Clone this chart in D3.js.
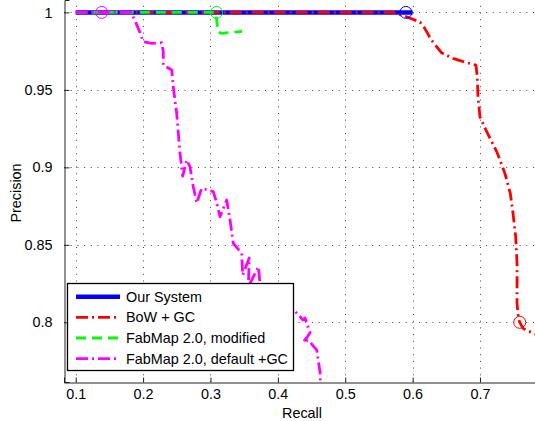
<!DOCTYPE html>
<html><head><meta charset="utf-8">
<script src="https://cdn.jsdelivr.net/npm/d3@7/dist/d3.min.js"></script>
<style>body{margin:0;background:#fff}svg{display:block}text{font-family:"Liberation Sans",Arial,Helvetica,sans-serif}</style>
</head><body>
<script>
const xTicks=[0.1,0.2,0.3,0.4,0.5,0.6,0.7];
const yTicks=[0.8,0.85,0.9,0.95,1];
const ourSystem=[[0.1,1],[0.6,1]];
const ourMarker=[0.59,1];
const bowGC=[[0.1,1],[0.571,1],[0.591,0.9972],[0.611,0.9937],[0.618,0.9897],[0.628,0.9821],[0.643,0.9739],[0.660,0.9703],[0.680,0.9676],[0.694,0.966],[0.696,0.9583],[0.697,0.9455],[0.700,0.9325],[0.710,0.923],[0.725,0.910],[0.737,0.8961],[0.745,0.8832],[0.749,0.8703],[0.753,0.8552],[0.755,0.838],[0.755,0.8123],[0.757,0.8028],[0.759,0.800],[0.764,0.7961],[0.771,0.7944],[0.779,0.7932],[0.789,0.791]];
const bowMarker=[0.759,0.8];
const fabModified=[[0.1,1],[0.307,1],[0.309,0.996],[0.311,0.9875],[0.316,0.9865],[0.33,0.987],[0.347,0.9878]];
const fabModMarker=[0.309,1];
const fabDefault=[[0.1,1],[0.182,1],[0.1865,0.9961],[0.1954,0.9871],[0.2003,0.981],[0.2128,0.98],[0.2276,0.9804],[0.230,0.9746],[0.230,0.966],[0.2425,0.9628],[0.2448,0.952],[0.2499,0.9348],[0.2523,0.9219],[0.2548,0.909],[0.2588,0.8944],[0.2647,0.9047],[0.2696,0.9004],[0.2745,0.8875],[0.2796,0.877],[0.287,0.8865],[0.3042,0.8843],[0.3093,0.877],[0.3142,0.8681],[0.3241,0.8789],[0.329,0.866],[0.3339,0.851],[0.3464,0.8445],[0.3478,0.8305],[0.3576,0.8415],[0.3562,0.8228],[0.371,0.8359],[0.3735,0.8254],[0.4106,0.8144],[0.4373,0.8015],[0.4403,0.8028],[0.4478,0.7931],[0.4378,0.7873],[0.4452,0.7886],[0.4577,0.7821],[0.4626,0.768],[0.4633,0.76]];
const fabDefMarker=[0.1386,1];
const legendLabels=["Our System","BoW + GC","FabMap 2.0, modified","FabMap 2.0, default +GC"];

const W=535,H=421;
const L=64,B=382,T=0,R=540;
const svg=d3.select("body").append("svg").attr("width",W).attr("height",H);
const x=d3.scaleLinear().domain([0.1-(75.7-L)/673.8,0.1+(R-75.7)/673.8]).range([L,R]);
const y=d3.scaleLinear().domain([0.7615,1.008]).range([B,T]);

svg.append("defs").append("clipPath").attr("id","clip").append("rect").attr("x",L).attr("y",T).attr("width",R-L).attr("height",B-T);

// grid
const grid=svg.append("g").attr("stroke","#444").attr("stroke-width",1).attr("stroke-dasharray","1,5.7");
grid.selectAll(".gx").data(xTicks).join("line").attr("x1",d=>Math.round(x(d))+0.5).attr("x2",d=>Math.round(x(d))+0.5).attr("y1",B).attr("y2",T+4);
grid.selectAll(".gy").data(yTicks).join("line").attr("y1",d=>Math.round(y(d))+0.5).attr("y2",d=>Math.round(y(d))+0.5).attr("x1",L).attr("x2",R);

// axes
const fs="14.4px";
const xa=svg.append("g").attr("transform",`translate(0,${B+0.5})`).call(d3.axisBottom(x).tickValues(xTicks).tickSize(-5).tickPadding(6).tickFormat(d3.format(".1f")));
const ya=svg.append("g").attr("transform",`translate(${L+0.5},0)`).call(d3.axisLeft(y).tickValues(yTicks).tickSize(-5).tickPadding(12).tickFormat(d=>d===1?"1":d3.format("")(d)));
[xa,ya].forEach(a=>{a.selectAll("text").attr("font-size",fs).attr("fill","#000").attr("font-family","Liberation Sans, Arial, sans-serif");a.select(".domain").attr("stroke","#222");a.selectAll(".tick line").attr("stroke","#222");});
xa.selectAll("text").attr("dy","0.71em");

svg.append("text").attr("x",302).attr("y",418).attr("text-anchor","middle").attr("font-size",fs).text("Recall");
svg.append("text").attr("transform","translate(21,193) rotate(-90)").attr("text-anchor","middle").attr("font-size",fs).text("Precision");

const line=d3.line().x(d=>x(d[0])).y(d=>y(d[1]));
const plot=svg.append("g").attr("clip-path","url(#clip)");
const series=[
 {data:ourSystem,color:"#0000ff",w:4.5,dash:null,marker:ourMarker},
 {data:bowGC,color:"#ff0000",w:2.8,dash:"12,4,2,4",marker:bowMarker},
 {data:fabModified,color:"#00ff00",w:2.8,dash:"10,6",marker:fabModMarker},
 {data:fabDefault,color:"#ff00ff",w:2.8,dash:"12,4,2,4",marker:fabDefMarker}
];
series.forEach(s=>{
 plot.append("path").attr("d",line(s.data)).attr("fill","none").attr("stroke",s.color).attr("stroke-width",s.w).attr("stroke-dasharray",s.dash).attr("stroke-linejoin","round");
});
series.forEach(s=>{
 plot.append("circle").attr("cx",x(s.marker[0])).attr("cy",y(s.marker[1])).attr("r",6).attr("fill","none").attr("stroke",s.color).attr("stroke-width",1);
});

// legend
const lg=svg.append("g");
lg.append("rect").attr("x",67.5).attr("y",283.5).attr("width",226).attr("height",87).attr("fill","#fff").attr("stroke","#000").attr("stroke-width",1.3);
const rowY=[296.7,317.3,338,358.7];
series.forEach((s,i)=>{
 lg.append("line").attr("x1",76).attr("x2",120).attr("y1",rowY[i]).attr("y2",rowY[i]).attr("stroke",s.color).attr("stroke-width",s.w).attr("stroke-dasharray",s.dash);
 lg.append("text").attr("x",126).attr("y",rowY[i]).attr("dy","0.36em").attr("font-size",fs).text(legendLabels[i]);
});
</script>
</body></html>
